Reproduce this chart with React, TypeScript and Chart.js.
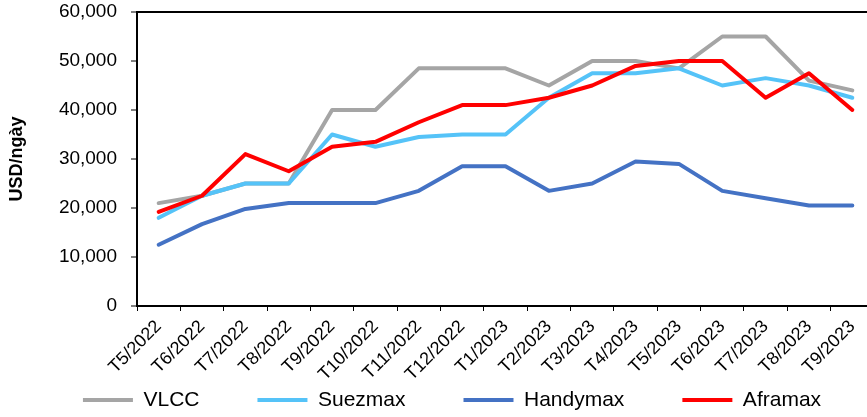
import React, { useEffect, useRef } from "react";
import { Chart, registerables } from "chart.js";

Chart.register(...registerables);

const categories = [
  "T5/2022", "T6/2022", "T7/2022", "T8/2022", "T9/2022", "T10/2022", "T11/2022", "T12/2022",
  "T1/2023", "T2/2023", "T3/2023", "T4/2023", "T5/2023", "T6/2023", "T7/2023", "T8/2023", "T9/2023",
];
const vlcc = [21000, 22500, 25000, 25000, 40000, 40000, 48500, 48500, 48500, 45000, 50000, 50000, 48500, 55000, 55000, 46000, 44000];
const suezmax = [18000, 22500, 25000, 25000, 35000, 32500, 34500, 35000, 35000, 42500, 47500, 47500, 48500, 45000, 46500, 45000, 42500];
const handymax = [12500, 16700, 19800, 21000, 21000, 21000, 23500, 28500, 28500, 23500, 25000, 29500, 29000, 23500, 22000, 20500, 20500];
const aframax = [19200, 22500, 31000, 27500, 32500, 33500, 37500, 41000, 41000, 42500, 45000, 49000, 50000, 50000, 42500, 47500, 40000];

const yMin = 0;
const yMax = 60000;
const yStep = 10000;
const yTitle = "USD/ngày";

const FONT = "'Liberation Sans', Arial, sans-serif";

export default function App() {
  const ref = useRef<HTMLCanvasElement | null>(null);

  useEffect(() => {
    if (!ref.current) return;
    const mk = (label: string, data: number[], color: string, order: number) => ({
      label,
      data,
      borderColor: color,
      backgroundColor: color,
      borderWidth: 4,
      pointRadius: 0,
      pointHoverRadius: 0,
      tension: 0,
      borderCapStyle: "round" as const,
      borderJoinStyle: "round" as const,
      fill: false,
      order,
    });
    const chart = new Chart(ref.current, {
      type: "line",
      data: {
        labels: categories,
        datasets: [
          mk("VLCC", vlcc, "#A5A5A5", 4),
          mk("Suezmax", suezmax, "#55C3F8", 3),
          mk("Handymax", handymax, "#4472C4", 2),
          mk("Aframax", aframax, "#FF0000", 1),
        ],
      },
      options: {
        responsive: false,
        animation: false,
        events: [],
        layout: { padding: { left: 22, right: 0, top: 0, bottom: 0 } },
        scales: {
          x: {
            type: "category",
            offset: true,
            grid: {
              display: true,
              drawOnChartArea: false,
              drawTicks: true,
              tickLength: 5,
              tickColor: "#000",
              tickWidth: 1,
              offset: true,
            },
            border: { display: true, color: "#000", width: 2 },
            ticks: {
              autoSkip: false,
              maxRotation: 45,
              minRotation: 45,
              color: "#000",
              padding: 5,
              font: { family: FONT, size: 18 },
            },
            afterFit: (s: any) => {
              s.height = 25.5;
              s.paddingRight = 8;
              s.paddingLeft = 0;
              s._computeLabelArea = () => undefined;
            },
          },
          y: {
            min: yMin,
            max: yMax,
            ticks: {
              stepSize: yStep,
              color: "#000",
              padding: 14,
              font: { family: FONT, size: 19 },
              callback: (v: any) => Number(v).toLocaleString("en-US"),
            },
            grid: {
              drawOnChartArea: true,
              drawTicks: true,
              tickLength: 6,
              tickColor: "#000",
              tickWidth: 1,
              color: (c: any) => (c.tick && c.tick.value === yMax ? "#000" : "rgba(0,0,0,0)"),
              lineWidth: (c: any) => (c.tick && c.tick.value === yMax ? 2 : 0),
            },
            border: { display: true, color: "#000", width: 2 },
            title: {
              display: true,
              text: yTitle,
              color: "#000",
              font: { family: FONT, size: 18, weight: "bold" },
              padding: { top: -16, bottom: 0 },
            },
            afterFit: (s: any) => {
              s.width = 115;
              s.paddingTop = 12;
              s.paddingBottom = 0;
            },
          },
        },
        plugins: {
          tooltip: { enabled: false },
          legend: {
            position: "bottom",
            maxHeight: 85.5,
            labels: {
              boxWidth: 50,
              boxHeight: 4,
              padding: 58,
              color: "#000",
              font: { family: FONT, size: 21 },
              sort: (a: any, b: any) => a.datasetIndex - b.datasetIndex,
              generateLabels: (c: any) => {
                const items = Chart.defaults.plugins.legend.labels.generateLabels(c);
                return items.map((it: any) => ({
                  ...it,
                  fillStyle: it.strokeStyle,
                  lineWidth: 0,
                }));
              },
            },
          },
        },
      } as any,
    });
    return () => chart.destroy();
  }, []);

  return (
    <div
      style={{
        position: "absolute",
        left: 0,
        top: 0,
        width: 867,
        height: 417,
        overflow: "hidden",
        background: "#fff",
      }}
    >
      <canvas ref={ref} width={882} height={417} style={{ display: "block" }} />
    </div>
  );
}
